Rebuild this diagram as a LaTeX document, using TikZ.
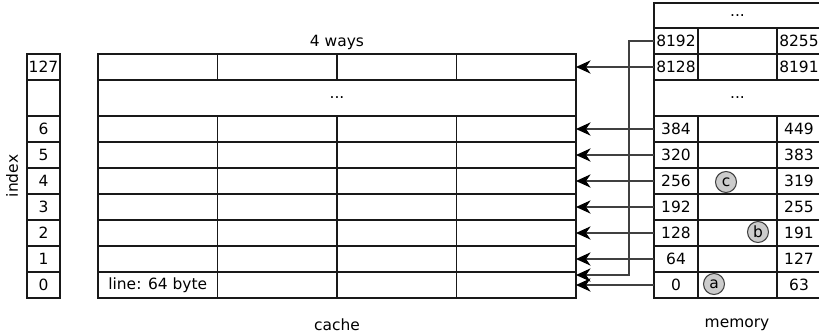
\documentclass[tikz,border=0pt]{standalone}
\usepackage{fontspec}
\setmainfont{DejaVu Sans}
\usetikzlibrary{arrows.meta,calc}
\begin{document}
\begin{tikzpicture}[x=0.75pt,y=-0.75pt,
  font=\fontsize{11.6}{13}\selectfont,
  cell/.style={draw=black!90, line width=1.1pt, inner sep=0pt, outer sep=0pt, anchor=north west},
  arr/.style={draw=black!75, line width=0.9pt, -{Stealth[length=11pt,width=10pt,inset=3.5pt,black]}},
  tag/.style={circle, draw=black!75, fill=black!20, line width=0.8pt, minimum size=21*0.75pt, inner sep=0pt},
  lbl/.style={inner sep=0pt}]
\useasboundingbox (0,0) rectangle (819,336);

% index column
\foreach \n/\t in {0/272,1/246,2/220,3/194,4/168,5/142,6/116,127/54}
  \node[cell, minimum width=33*0.75pt, minimum height=26*0.75pt] (i\n) at (27,\t) {\n};
\node[cell, minimum width=33*0.75pt, minimum height=36*0.75pt] (idots) at (27,80) {};

% cache
\foreach \n/\t in {0/272,1/246,2/220,3/194,4/168,5/142,6/116,127/54}
  \foreach \j in {0,...,3}
    \node[cell, minimum width=119.5*0.75pt, minimum height=26*0.75pt] (c\n-\j) at ({98+119.5*\j},\t) {};
\node[cell, minimum width=478*0.75pt, minimum height=36*0.75pt] (cdots) at (98,80) {...};
\node[lbl] (linelbl) at (c0-0.center) {line: 64 byte};

% memory
\foreach \a/\b/\t in {0/63/272, 64/127/246, 128/191/220, 192/255/194, 256/319/168, 320/383/142, 384/449/116, 8128/8191/54, 8192/8255/28} {
  \node[cell, minimum width=44*0.75pt, minimum height=26*0.75pt] (m\a) at (654,\t) {\a};
  \node[cell, minimum width=79*0.75pt, minimum height=26*0.75pt] (mm\a) at (698,\t) {};
  \node[cell, minimum width=44*0.75pt, minimum height=26*0.75pt] (mr\a) at (777,\t) {\b};
}
\node[cell, minimum width=167*0.75pt, minimum height=36*0.75pt] (mdots) at (654,80) {...};
\node[cell, minimum width=167*0.75pt, minimum height=25*0.75pt] (mtop) at (654,3) {...};

% arrows
\foreach \a/\n in {0/0,64/1,128/2,192/3,256/4,320/5,384/6,8128/127}
  \draw[arr] (m\a.west) -- (c\n-3.east);
\draw[arr] (m8192.west) -- ++(-25,0) |- ($(c0-3.east)+(0,-10)$);

% tags
\node[tag] (ta) at (714,284) {a};
\node[tag] (tb) at (758,232) {b};
\node[tag] (tc) at (726,182) {c};

% labels
\node[lbl] (ways) at (337,42) {4 ways};
\node[lbl] (cachelbl) at (337,325) {cache};
\node[lbl] (memlbl) at (737,325) {memory};
\node[lbl, rotate=90] (idx) at (12,176) {index};
\end{tikzpicture}
\end{document}
